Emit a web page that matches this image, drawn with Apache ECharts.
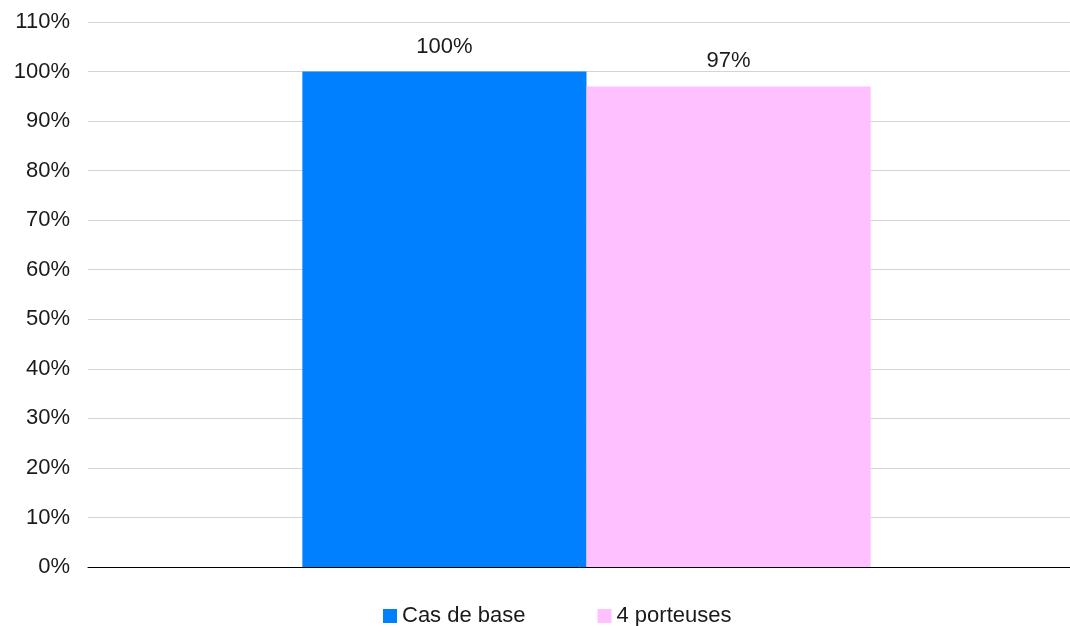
<!DOCTYPE html>
<html>
<head>
<meta charset="utf-8">
<script src="https://cdn.jsdelivr.net/npm/echarts@6/dist/echarts.min.js"></script>
<style>
  html, body { margin: 0; padding: 0; background: #ffffff; }
  #chart { width: 1070px; height: 626px; }
</style>
</head>
<body>
<div id="chart"></div>
<script>
// Single category, two scenarios compared as percentages
const categories = [''];
const seriesNames = ['Cas de base', '4 porteuses'];
const baseValues = [100];
const porteusesValues = [97];
const yTicks = [0, 10, 20, 30, 40, 50, 60, 70, 80, 90, 100, 110];

const FONT = '"Liberation Sans", Arial, sans-serif';

const chart = echarts.init(document.getElementById('chart'), null, { renderer: 'canvas' });

const labelStyle = {
  show: true,
  position: 'top',
  distance: 14,
  formatter: p => p.value + '%',
  color: '#1a1a1a',
  fontSize: 22,
  fontFamily: FONT
};

chart.setOption({
  animation: false,
  backgroundColor: '#ffffff',
  // plot area runs slightly past the right edge of the canvas
  grid: {
    left: 88, width: 997, top: 22, bottom: 59,
    containLabel: false,
    outerBoundsMode: 'none'
  },
  legend: {
    data: seriesNames,
    left: 383,
    top: 605,
    padding: 0,
    itemWidth: 14,
    itemHeight: 14,
    itemGap: 72,
    icon: 'rect',
    textStyle: { color: '#1a1a1a', fontSize: 22, fontFamily: FONT }
  },
  xAxis: {
    type: 'category',
    data: categories,
    axisLine: { show: true, lineStyle: { color: '#000000', width: 1 } },
    axisTick: { show: false },
    axisLabel: { show: false }
  },
  yAxis: {
    type: 'value',
    min: yTicks[0],
    max: yTicks[yTicks.length - 1],
    interval: 10,
    axisLine: { show: false },
    axisTick: { show: false },
    axisLabel: {
      formatter: v => v + '%',
      color: '#1a1a1a',
      fontSize: 22,
      fontFamily: FONT,
      margin: 18
    },
    splitLine: { lineStyle: { color: '#d4d4d4', width: 1 } }
  },
  series: [
    {
      name: seriesNames[0],
      type: 'bar',
      data: baseValues,
      barWidth: '28.5%',
      barGap: '0%',
      itemStyle: { color: '#007fff' },
      label: labelStyle
    },
    {
      name: seriesNames[1],
      type: 'bar',
      data: porteusesValues,
      barWidth: '28.5%',
      barGap: '0%',
      itemStyle: { color: '#ffc0ff' },
      label: labelStyle
    }
  ]
});
</script>
</body>
</html>
